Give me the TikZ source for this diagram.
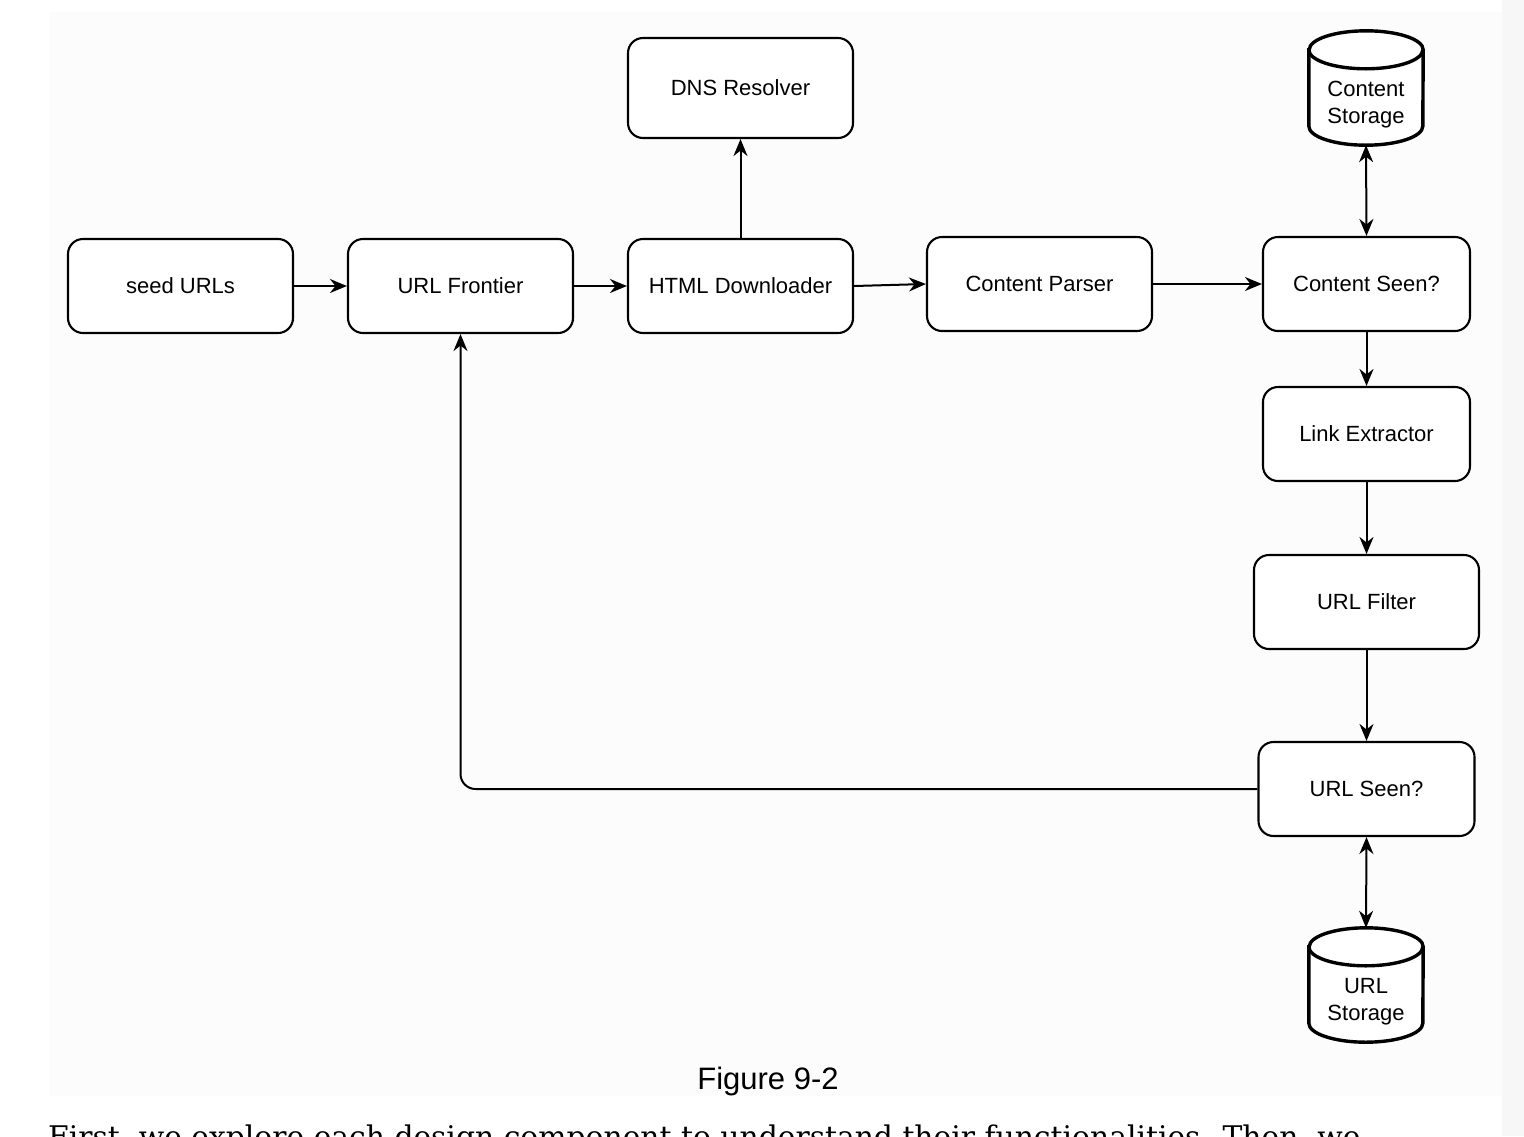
\documentclass[tikz,border=0pt]{standalone}
\usepackage{fontspec}
\setmainfont{Liberation Sans}
\newfontfamily\bodyserif{DejaVu Serif}
\usetikzlibrary{arrows.meta,calc}
\definecolor{bgpage}{HTML}{FCFCFC}
\definecolor{shadowstrip}{HTML}{F7F7F7}
\begin{document}
\begin{tikzpicture}[x=1pt,y=-1pt,
  box/.style={draw=black, line width=2.1pt, rounded corners=15pt, fill=white,
    minimum width=225pt, minimum height=94pt, inner sep=0pt,
    font=\fontsize{22}{26}\selectfont},
  store/.style={minimum width=114pt, minimum height=114pt, inner sep=0pt,
    align=center, font=\fontsize{22}{27}\selectfont},
  tip/.tip={Stealth[length=17pt,width=14pt,inset=5.5pt]},
  arr/.style={line width=2pt, -tip},
  darr/.style={line width=2pt, tip-tip},
  cyl/.style={draw=black, line width=3.4pt, fill=white}
]
\useasboundingbox (0,0) rectangle (1524,1136);
\fill[white] (0,0) rectangle (1524,1136);
\fill[shadowstrip] (1502,0) rectangle (1524,1136);
\fill[bgpage] (49,12) rectangle (1502,1096);

% boxes
\node[box] (seed) at (180.5,286) {seed URLs};
\node[box] (front) at (460.5,286) {URL Frontier};
\node[box] (dl) at (740.5,286) {HTML Downloader};
\node[box, minimum height=100pt] (dns) at (740.5,88) {DNS Resolver};
\node[box] (cp) at (1039.5,284) {Content Parser};
\node[box, minimum width=207pt] (cseen) at (1366.5,284) {Content Seen?};
\node[box, minimum width=207pt] (lx) at (1366.5,434) {Link Extractor};
\node[box] (uf) at (1366.5,602) {URL Filter};
\node[box, minimum width=216pt] (useen) at (1366.5,789) {URL Seen?};

% cylinders
\newcommand{\drawcyl}[1]{%
  \draw[cyl] ($(#1.north west)+(0,19)$) -- ($(#1.south west)+(0,-19)$)
    arc[start angle=180, end angle=360, x radius=57, y radius=-19]
    -- ($(#1.north east)+(0,19)$)
    arc[start angle=0, end angle=180, x radius=57, y radius=-19] -- cycle;
  \draw[cyl, fill=none] ($(#1.north west)+(0,19)$)
    arc[start angle=180, end angle=360, x radius=57, y radius=-19];
}
\node[store] (cstore) at (1366,88) {};
\node[store] (ustore) at (1366,985) {};
\drawcyl{cstore}
\drawcyl{ustore}
\node[store] (cstoretext) at (1366,105) {Content\\Storage};
\node[store] (ustoretext) at (1366,1002) {URL\\Storage};

% connectors
\draw[arr] (seed) -- (front);
\draw[arr] (front) -- (dl);
\draw[arr] (dl) -- (dns);
\draw[arr] (dl.east) -- (cp.west);
\draw[arr] (cp) -- (cseen);
\draw[darr] (cseen.north) -- (cstore.south);
\draw[arr] (cseen) -- (lx);
\draw[arr] (lx) -- (uf);
\draw[arr] (uf) -- (useen);
\draw[darr] (useen.south) -- (ustore.north);
\draw[arr, rounded corners=15pt] (useen.west) -| (front.south);

% caption
\node[font=\fontsize{31}{36}\selectfont] (cap) at (768,1081) {Figure 9-2};

% cut-off body text (cut off at the page edge, as in the reference)
\begin{scope}
\clip (0,0) rectangle (1524,1136);
\node[anchor=base west, inner sep=0pt] (body) at (48,1147)
  {\resizebox{1312pt}{!}{\bodyserif First, we explore each design component to understand their functionalities. Then, we}};
\end{scope}
\end{tikzpicture}
\end{document}
